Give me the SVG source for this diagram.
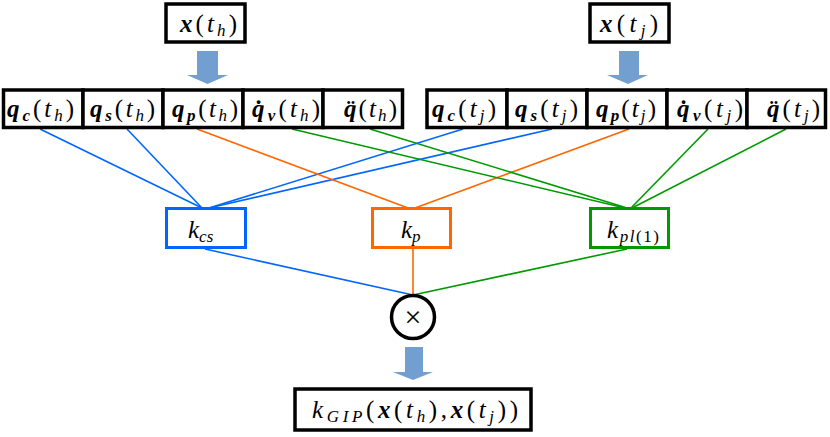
<svg xmlns="http://www.w3.org/2000/svg" width="830" height="437" viewBox="0 0 830 437">
<style>
.box{fill:#fff;stroke:#000;stroke-width:3.5}
.kb{fill:#fff;stroke-width:3}
.arr{fill:#729fcf}
.t{font-family:'Liberation Serif','Times New Roman',serif;font-size:25px;font-style:italic;fill:#000}
.b{font-weight:bold}
.r{font-style:normal}
.s{font-size:17px}
.ln{fill:none;stroke-width:1.6}
.blue{stroke:#0066ff}
.orange{stroke:#ff6600}
.green{stroke:#009900}
</style>
<rect width="830" height="437" fill="#fff"/>
<g id="connectors">
<line class="ln blue" x1="40" y1="129" x2="202" y2="208"/>
<line class="ln blue" x1="127" y1="129" x2="202" y2="208"/>
<line class="ln blue" x1="463" y1="129" x2="209" y2="208"/>
<line class="ln blue" x1="552" y1="129" x2="209" y2="208"/>
<line class="ln orange" x1="197" y1="129" x2="408" y2="208"/>
<line class="ln orange" x1="629" y1="129" x2="415" y2="208"/>
<line class="ln green" x1="292" y1="129" x2="625" y2="208"/>
<line class="ln green" x1="370" y1="129" x2="627" y2="208"/>
<line class="ln green" x1="708" y1="129" x2="631" y2="208"/>
<line class="ln green" x1="786" y1="129" x2="632" y2="208"/>
<line class="ln blue" x1="205" y1="249" x2="413" y2="295"/>
<line class="ln orange" x1="413" y1="249" x2="413" y2="295"/>
<line class="ln green" x1="627" y1="249" x2="413" y2="295"/>
<polygon class="arr" points="197,51 218,51 218,75 228,75 207.5,84 187,75 197,75"/>
<polygon class="arr" points="619,51 639,51 639,75 648,75 628,84 607,75 619,75"/>
<polygon class="arr" points="405,347 423,347 423,372 433,372 413,380 393,372 405,372"/>
</g>
<g id="x_th">
<rect class="box" x="166" y="4" width="79" height="38"/>
<text class="t" x="180" y="32" textLength="57" lengthAdjust="spacing"><tspan class="b">x</tspan><tspan class="r">(</tspan>t<tspan class="s" dy="4">h</tspan><tspan class="r" dy="-4">)</tspan></text>
</g>
<g id="x_tj">
<rect class="box" x="590" y="4" width="79" height="38"/>
<text class="t" x="600" y="32" textLength="58" lengthAdjust="spacing"><tspan class="b">x</tspan><tspan class="r">(</tspan>t<tspan class="s" dy="4">j</tspan><tspan class="r" dy="-4">)</tspan></text>
</g>
<g id="qc_th">
<rect class="box" x="3.5" y="90" width="79.5" height="37.5"/>
<text class="t" x="7" y="117" textLength="67" lengthAdjust="spacing"><tspan class="b">q</tspan><tspan class="b s" dy="4">c</tspan><tspan class="r" dy="-4">(</tspan>t<tspan class="s" dy="4">h</tspan><tspan class="r" dy="-4">)</tspan></text>
</g>
<g id="qs_th">
<rect class="box" x="83" y="90" width="80" height="37.5"/>
<text class="t" x="90" y="117" textLength="65" lengthAdjust="spacing"><tspan class="b">q</tspan><tspan class="b s" dy="4">s</tspan><tspan class="r" dy="-4">(</tspan>t<tspan class="s" dy="4">h</tspan><tspan class="r" dy="-4">)</tspan></text>
</g>
<g id="qp_th">
<rect class="box" x="163" y="90" width="80" height="37.5"/>
<text class="t" x="172" y="117" textLength="66" lengthAdjust="spacing"><tspan class="b">q</tspan><tspan class="b s" dy="4">p</tspan><tspan class="r" dy="-4">(</tspan>t<tspan class="s" dy="4">h</tspan><tspan class="r" dy="-4">)</tspan></text>
</g>
<g id="qv_th">
<rect class="box" x="243" y="90" width="80" height="37.5"/>
<text class="t" x="252" y="117" textLength="68" lengthAdjust="spacing"><tspan class="b">q̇</tspan><tspan class="b s" dy="4">v</tspan><tspan class="r" dy="-4">(</tspan>t<tspan class="s" dy="4">h</tspan><tspan class="r" dy="-4">)</tspan></text>
</g>
<g id="qa_th">
<rect class="box" x="323" y="90" width="79.5" height="37.5"/>
<text class="t" x="344" y="117" textLength="53" lengthAdjust="spacing"><tspan class="b">q̈</tspan><tspan class="r">(</tspan>t<tspan class="s" dy="4">h</tspan><tspan class="r" dy="-4">)</tspan></text>
</g>
<g id="qc_tj">
<rect class="box" x="427" y="90" width="80" height="37.5"/>
<text class="t" x="432" y="117" textLength="64" lengthAdjust="spacing"><tspan class="b">q</tspan><tspan class="b s" dy="4">c</tspan><tspan class="r" dy="-4">(</tspan>t<tspan class="s" dy="4">j</tspan><tspan class="r" dy="-4">)</tspan></text>
</g>
<g id="qs_tj">
<rect class="box" x="507" y="90" width="80" height="37.5"/>
<text class="t" x="515" y="117" textLength="63" lengthAdjust="spacing"><tspan class="b">q</tspan><tspan class="b s" dy="4">s</tspan><tspan class="r" dy="-4">(</tspan>t<tspan class="s" dy="4">j</tspan><tspan class="r" dy="-4">)</tspan></text>
</g>
<g id="qp_tj">
<rect class="box" x="587" y="90" width="80" height="37.5"/>
<text class="t" x="596" y="117" textLength="60" lengthAdjust="spacing"><tspan class="b">q</tspan><tspan class="b s" dy="4">p</tspan><tspan class="r" dy="-4">(</tspan>t<tspan class="s" dy="4">j</tspan><tspan class="r" dy="-4">)</tspan></text>
</g>
<g id="qv_tj">
<rect class="box" x="667" y="90" width="80" height="37.5"/>
<text class="t" x="677" y="117" textLength="66" lengthAdjust="spacing"><tspan class="b">q̇</tspan><tspan class="b s" dy="4">v</tspan><tspan class="r" dy="-4">(</tspan>t<tspan class="s" dy="4">j</tspan><tspan class="r" dy="-4">)</tspan></text>
</g>
<g id="qa_tj">
<rect class="box" x="747" y="90" width="78.5" height="37.5"/>
<text class="t" x="767" y="117" textLength="53" lengthAdjust="spacing"><tspan class="b">q̈</tspan><tspan class="r">(</tspan>t<tspan class="s" dy="4">j</tspan><tspan class="r" dy="-4">)</tspan></text>
</g>
<g id="k_cs">
<rect class="kb blue" x="166.5" y="208.5" width="79" height="39"/>
<text class="t" x="188" y="238">k<tspan class="s" dy="4">cs</tspan></text>
</g>
<g id="k_p">
<rect class="kb orange" x="372.5" y="208.5" width="78" height="39"/>
<text class="t" x="401" y="238">k<tspan class="s" dy="4">p</tspan></text>
</g>
<g id="k_pl1">
<rect class="kb green" x="590.5" y="208.5" width="78" height="39"/>
<text class="t" x="607" y="238" textLength="52" lengthAdjust="spacing">k<tspan class="s" dy="4">pl</tspan><tspan class="s r">(1)</tspan></text>
</g>
<g id="times">
<circle cx="413" cy="317" r="21.5" fill="#fff" stroke="#000" stroke-width="3.5"/>
<text x="413" y="327" text-anchor="middle" style="font-family:'Liberation Serif',serif;font-size:30px">×</text>
</g>
<g id="k_gip">
<rect class="box" x="295" y="389" width="236" height="41"/>
<text class="t" x="312" y="418" textLength="206" lengthAdjust="spacing">k<tspan class="s" dy="4">GIP</tspan><tspan class="r" dy="-4">(</tspan><tspan class="b">x</tspan><tspan class="r">(</tspan>t<tspan class="s" dy="4">h</tspan><tspan class="r" dy="-4">),</tspan><tspan class="b">x</tspan><tspan class="r">(</tspan>t<tspan class="s" dy="4">j</tspan><tspan class="r" dy="-4">))</tspan></text>
</g>
</svg>
